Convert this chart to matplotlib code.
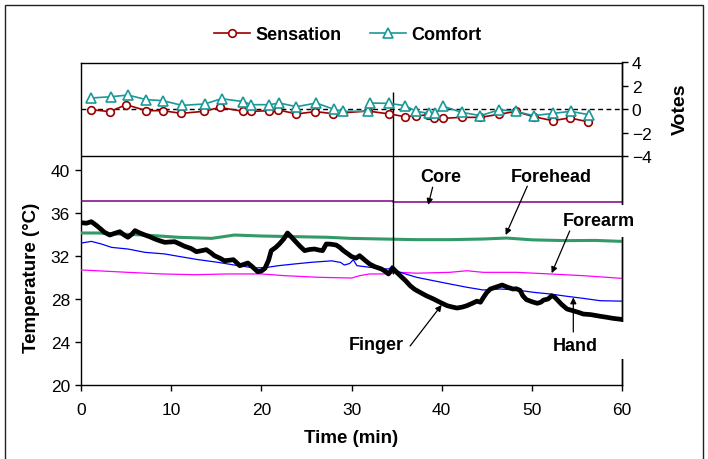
import matplotlib
matplotlib.use("Agg")
import matplotlib.pyplot as plt
from matplotlib.patches import Rectangle
import matplotlib.transforms as mtransforms

plt.rcParams['font.family'] = ['Liberation Sans', 'DejaVu Sans']

# ---------------- data ----------------
finger_t = [0, 0.6, 1.15, 1.7, 2.2, 2.6, 3.2, 3.7, 4.3, 4.8, 5.2, 5.6, 6.0, 6.5, 7.1, 7.6, 8.2, 8.8,
            9.3, 9.8, 10.4, 11.0, 11.5, 12.2, 12.8, 13.4, 13.9, 14.4, 14.8, 15.4, 15.9, 16.4, 16.9,
            17.3, 17.6, 18.0, 18.5, 19.0, 19.6, 20.0, 20.4, 20.8, 21.1, 21.6, 22.0, 22.5, 22.9, 23.3,
            23.7, 24.3, 24.8, 25.3, 25.9, 26.4, 26.8, 27.2, 27.7, 28.3, 28.7, 29.1, 29.6, 30.0, 30.5,
            30.9, 31.5, 32.0, 32.6, 33.3, 33.7, 34.1, 34.6, 35.0, 35.4, 36.0, 36.5, 37.0, 37.6, 38.3,
            39.1, 39.8, 40.6, 41.2, 41.7, 42.3, 42.8, 43.4, 43.9, 44.3, 44.6, 45.0, 45.4, 46.0, 46.7,
            47.3, 47.9, 48.3, 48.7, 49.0, 49.4, 50.0, 50.6, 51.0, 51.3, 51.8, 52.2, 52.5, 52.8, 53.3,
            53.9, 54.6, 55.2, 55.7, 56.5, 57.2, 57.6, 58.3, 59.0, 60.0]
finger_T = [35.1, 35.05, 35.19, 34.85, 34.5, 34.2, 33.95, 34.1, 34.26, 33.95, 33.74, 34.0, 34.36, 34.15,
            33.95, 33.8, 33.58, 33.4, 33.27, 33.3, 33.33, 33.1, 32.9, 32.7, 32.4, 32.5, 32.59, 32.3,
            32.03, 31.8, 31.56, 31.6, 31.66, 31.35, 31.1, 31.2, 31.35, 31.0, 30.54, 30.6, 30.85, 31.6,
            32.5, 32.8, 33.12, 33.6, 34.14, 33.8, 33.43, 32.9, 32.5, 32.6, 32.65, 32.55, 32.5, 33.12,
            33.1, 33.02, 32.8, 32.5, 32.2, 31.95, 31.8, 32.03, 31.6, 31.26, 31.0, 30.8, 30.6, 30.33,
            30.85, 30.5, 30.17, 29.7, 29.24, 28.9, 28.62, 28.3, 28.0, 27.7, 27.38, 27.25, 27.16, 27.25,
            27.38, 27.6, 27.8, 27.7, 28.1, 28.6, 28.93, 29.1, 29.3, 29.1, 28.93, 28.95, 28.8, 28.3,
            27.94, 27.75, 27.6, 27.7, 27.9, 28.0, 28.3, 28.2, 27.94, 27.5, 27.07, 26.9, 26.75, 26.6,
            26.55, 26.45, 26.39, 26.3, 26.2, 26.1]

hand_t = [0, 1.15, 2.25, 3.4, 5.2, 7.1, 9.3, 10.8, 13.0, 15.2, 17.0, 19.3, 20.7, 21.9, 23.7, 25.5,
          27.8, 28.8, 29.2, 29.8, 30.2, 30.6, 32.0, 33.5, 34.2, 34.5, 34.9, 35.4, 37.2, 39.1, 40.9,
          42.8, 44.6, 46.5, 48.3, 50.2, 52.0, 53.9, 55.7, 57.6, 60.0]
hand_T = [33.2, 33.36, 33.12, 32.8, 32.65, 32.34, 32.19, 31.97, 31.66, 31.41, 31.16, 30.88, 30.95,
          31.1, 31.26, 31.41, 31.55, 31.4, 31.16, 31.3, 31.65, 31.1, 30.95, 30.79, 30.8, 31.1, 30.7,
          30.48, 30.02, 29.7, 29.4, 29.09, 28.84, 28.93, 28.84, 28.62, 28.47, 28.25, 28.06, 27.84, 27.8]

forehead_t = [0, 1.9, 4.1, 7.1, 10.8, 14.5, 17.0, 20.0, 23.7, 27.4, 29.9, 33.5, 37.2, 40.9, 44.6,
              47.2, 50.1, 53.9, 57.0, 60.0]
forehead_T = [34.14, 34.14, 34.05, 33.95, 33.74, 33.64, 33.95, 33.86, 33.8, 33.74, 33.64, 33.58,
              33.52, 33.52, 33.58, 33.67, 33.5, 33.43, 33.45, 33.36]

forearm_t = [0, 1.5, 5.2, 9.0, 12.6, 16.3, 20.0, 22.6, 26.3, 30.0, 30.9, 32.0, 33.5, 35.4, 37.2,
             40.9, 42.8, 44.6, 48.3, 52.0, 55.7, 60.0]
forearm_T = [30.7, 30.64, 30.48, 30.33, 30.26, 30.33, 30.33, 30.17, 30.02, 29.95, 30.17, 30.33,
             30.33, 30.48, 30.4, 30.48, 30.63, 30.48, 30.48, 30.33, 30.17, 29.92]

core_t = [0, 34.6, 34.6, 60]
core_T = [37.1, 37.1, 37.0, 37.0]

sens_t = [1.15, 3.2, 5.0, 7.25, 9.1, 11.1, 13.6, 15.4, 18.0, 18.9, 20.9, 21.9, 23.9, 26.0, 27.9,
          31.8, 34.2, 35.9, 37.1, 38.5, 39.2, 40.2, 42.2, 44.3, 46.4, 48.2, 50.2, 52.3, 54.2, 56.2]
sens_v = [-0.02, -0.18, 0.41, -0.1, -0.1, -0.33, -0.16, 0.18, -0.16, -0.16, -0.1, -0.04, -0.38,
          -0.18, -0.35, -0.13, -0.38, -0.61, -0.55, -0.45, -0.72, -0.75, -0.67, -0.67, -0.4, -0.17,
          -0.61, -0.95, -0.72, -1.04]

comf_t = [1.15, 3.37, 5.2, 7.25, 9.1, 11.2, 13.7, 15.6, 18.0, 18.9, 20.9, 22.0, 23.9, 26.1, 28.1,
          29.1, 31.8, 32.1, 34.2, 35.9, 37.2, 38.6, 39.3, 40.2, 42.2, 44.3, 46.4, 48.2, 50.2, 52.4,
          54.3, 56.3]
comf_v = [0.98, 1.09, 1.23, 0.84, 0.75, 0.35, 0.47, 0.92, 0.67, 0.41, 0.41, 0.55, 0.24, 0.55, 0.0,
          -0.15, -0.15, 0.55, 0.52, 0.33, -0.16, -0.33, -0.33, 0.27, -0.24, -0.52, -0.02, -0.16,
          -0.52, -0.33, -0.16, -0.44]

temp_ticks = [20, 24, 28, 32, 36, 40]
vote_ticks = [-4, -2, 0, 2, 4]
time_ticks = [0, 10, 20, 30, 40, 50, 60]

# ---------------- figure ----------------
W, H = 708, 460
fig = plt.figure(figsize=(W / 100, H / 100), dpi=100)

def px(x0, y0, x1, y1):
    return [x0 / W, 1 - y1 / H, (x1 - x0) / W, (y1 - y0) / H]

ax = fig.add_axes(px(81, 63.5, 622, 386))
ax.set_xlim(0, 60)
ax.set_ylim(20, 50)

ax.plot(forearm_t, forearm_T, color='#ff00ff', lw=0.9, zorder=3)
ax.plot(hand_t, hand_T, color='#0000ff', lw=0.9, zorder=3)
ax.plot(forehead_t, forehead_T, color='#339966', lw=2.2, zorder=3)
ax.plot(core_t, core_T, color='#800080', lw=1.1, zorder=3)
ax.plot(finger_t, finger_T, color='black', lw=3.4, zorder=4, solid_joinstyle='round')

ax.set_xticks(time_ticks)
ax.set_yticks(temp_ticks)
ax.tick_params(axis='both', direction='out', length=4, width=1, labelsize=12.5, pad=4)
ax.tick_params(axis='x', pad=8)
for s in ax.spines.values():
    s.set_linewidth(1)
ax.set_xlabel('Time (min)', fontsize=13.5, fontweight='bold', labelpad=9)
ax.set_ylabel('Temperature (°C)', fontsize=13.5, fontweight='bold')
ax.yaxis.set_label_coords(-0.076, 0.334)

# vertical marker line
ax.vlines(34.6, 30.3, 47.3, color='black', lw=1, zorder=5)

# votes axis
av = ax.twinx()
av.set_ylim(-23.45, 4.0)
av.set_yticks(vote_ticks)
av.tick_params(axis='y', direction='out', length=4, width=1, labelsize=12.5, pad=3)
for k, s in av.spines.items():
    s.set_visible(k == 'right')
av.spines['right'].set_linewidth(1)
av.axhline(0, color='black', lw=1, ls=(0, (3.5, 2.5)), zorder=2)
av.axhline(-4, color='black', lw=1, zorder=2)
av.plot(sens_t, sens_v, color='#990000', lw=1.2, marker='o', ms=5.5, mfc='white',
        mec='#990000', mew=1.2, label='Sensation', zorder=6)
av.plot(comf_t, comf_v, color='#1a9999', lw=1.2, marker='^', ms=6.5, mfc='white',
        mec='#1a9999', mew=1.2, label='Comfort', zorder=6)
av.set_ylabel('Votes', fontsize=14, fontweight='bold')
av.yaxis.set_label_coords(1.092, 0.857)

# white gaps on the right spine (text boxes)
bt = mtransforms.blended_transform_factory(ax.transAxes, ax.transData)
for y0, y1 in [(33.8, 36.7), (22.4, 25.85)]:
    av.add_patch(Rectangle((0.985, y0), 0.03, y1 - y0, transform=bt, facecolor='white',
                           edgecolor='none', zorder=10, clip_on=False))

# annotations (drawn on the top axes so they sit above the white gaps)
arrow = dict(arrowstyle='-|>', color='black', lw=0.9, mutation_scale=9, shrinkA=0, shrinkB=0)
def note(text, tx, ty, x0, y0, x1, y1):
    av.text(tx, ty, text, fontsize=13, fontweight='bold', ha='center', va='center', zorder=12,
            transform=ax.transData, clip_on=False)
    av.annotate('', xy=(x1, y1), xytext=(x0, y0), xycoords=ax.transData,
                textcoords=ax.transData, arrowprops=arrow, zorder=12)

note('Core', 39.9, 39.35, 39.0, 38.4, 38.5, 36.75)
note('Forehead', 52.2, 39.35, 49.5, 38.5, 47.1, 33.95)
note('Forearm', 57.4, 35.26, 54.2, 34.33, 52.2, 30.4)
note('Finger', 32.8, 23.8, 36.5, 23.63, 40.0, 27.45)
note('Hand', 54.8, 23.63, 54.6, 24.93, 54.6, 28.15)

# legend
fig.legend(*av.get_legend_handles_labels(), loc='center', bbox_to_anchor=(0.491, 1 - 35.7 / H),
           ncol=2, frameon=False, handlelength=2.0, handletextpad=0.3, columnspacing=1.6,
           prop={'weight': 'bold', 'size': 13})

# outer frame
fig.patches.append(Rectangle((5 / W, -0.02), 698 / W, (454 / H) + 0.02,
                             transform=fig.transFigure, fill=False, edgecolor='#222222', lw=1))

fig.savefig('out.png', dpi=100)
